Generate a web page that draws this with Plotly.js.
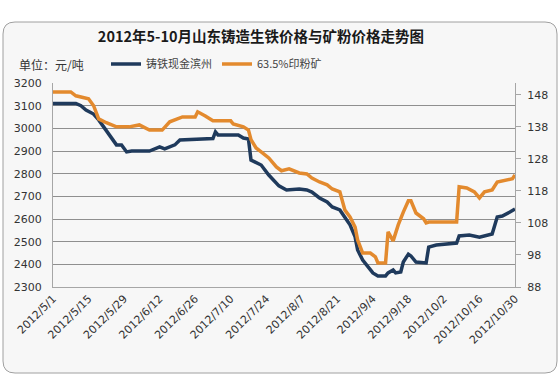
<!DOCTYPE html>
<html>
<head>
<meta charset="utf-8">
<script src="https://cdn.plot.ly/plotly-3.0.1.min.js"></script>
<style>html,body{margin:0;padding:0;background:#fff;}#chart{width:560px;height:388px;}</style>
</head>
<body>
<div id="chart"></div>
<script>
// 铸铁现金滨州 (元/吨, left axis)
const ironDates = ['2012-05-01','2012-05-10','2012-05-12','2012-05-14','2012-05-17','2012-05-19','2012-05-26','2012-05-28','2012-05-30','2012-06-01','2012-06-08','2012-06-12','2012-06-14','2012-06-18','2012-06-20','2012-06-26','2012-07-03','2012-07-04','2012-07-05','2012-07-13','2012-07-15','2012-07-17','2012-07-18','2012-07-22','2012-07-25','2012-07-29','2012-08-01','2012-08-06','2012-08-09','2012-08-11','2012-08-14','2012-08-17','2012-08-19','2012-08-22','2012-08-24','2012-08-26','2012-08-28','2012-08-29','2012-08-31','2012-09-02','2012-09-04','2012-09-06','2012-09-09','2012-09-10','2012-09-12','2012-09-13','2012-09-15','2012-09-16','2012-09-18','2012-09-19','2012-09-21','2012-09-25','2012-09-26','2012-09-29','2012-10-07','2012-10-08','2012-10-12','2012-10-16','2012-10-19','2012-10-21','2012-10-23','2012-10-25','2012-10-28','2012-10-30'];
const ironValues = [3110,3110,3100,3081,3063,3037,2927,2927,2896,2900,2900,2918,2909,2927,2949,2953,2955,2984,2971,2971,2957,2953,2860,2838,2794,2746,2728,2732,2728,2719,2693,2675,2653,2640,2604,2574,2521,2463,2419,2388,2362,2349,2349,2362,2375,2362,2366,2410,2445,2437,2410,2406,2476,2485,2494,2525,2529,2520,2529,2534,2609,2613,2631,2644];

// 63.5%印粉矿 (right axis)
const oreDates = ['2012-05-01','2012-05-08','2012-05-10','2012-05-15','2012-05-17','2012-05-19','2012-05-22','2012-05-26','2012-05-31','2012-06-04','2012-06-08','2012-06-13','2012-06-16','2012-06-21','2012-06-26','2012-06-27','2012-06-30','2012-07-03','2012-07-10','2012-07-11','2012-07-15','2012-07-17','2012-07-18','2012-07-20','2012-07-22','2012-07-25','2012-07-28','2012-07-30','2012-08-02','2012-08-06','2012-08-09','2012-08-11','2012-08-14','2012-08-17','2012-08-19','2012-08-22','2012-08-24','2012-08-26','2012-08-28','2012-08-29','2012-08-31','2012-09-03','2012-09-05','2012-09-06','2012-09-09','2012-09-10','2012-09-12','2012-09-14','2012-09-16','2012-09-18','2012-09-19','2012-09-21','2012-09-24','2012-09-25','2012-09-26','2012-10-07','2012-10-08','2012-10-11','2012-10-14','2012-10-16','2012-10-18','2012-10-21','2012-10-23','2012-10-27','2012-10-29','2012-10-30'];
const oreValues = [148.9,148.9,147.7,146.8,144.6,140.5,139.3,138,138,138.6,137,137,139.6,141.1,141.1,142.7,141.4,139.9,139.9,138.9,138,137,134,131.4,130.2,128.3,125.5,124.3,124.9,123.6,123.3,122,120.8,119.9,118.6,117.7,112,109.9,106.7,102.7,98.6,98.6,97.4,95.5,95.5,105.2,102.4,107.4,111.4,114.9,114.9,111.1,109.3,108,108.3,108.3,119.3,118.9,117.7,115.8,117.7,118.3,120.8,121.4,121.8,123];

const xTickVals = ['2012-05-01','2012-05-15','2012-05-29','2012-06-12','2012-06-26','2012-07-10','2012-07-24','2012-08-07','2012-08-21','2012-09-04','2012-09-18','2012-10-02','2012-10-16','2012-10-30'];
const xTickText = ['2012/5/1','2012/5/15','2012/5/29','2012/6/12','2012/6/26','2012/7/10','2012/7/24','2012/8/7','2012/8/21','2012/9/4','2012/9/18','2012/10/2','2012/10/16','2012/10/30'];
const leftTicks = [2300,2400,2500,2600,2700,2800,2900,3000,3100,3200];
const rightTicks = [88,98,108,118,128,138,148];

const seriesNames = ['铸铁现金滨州','63.5%印粉矿'];
const titleText = '2012年5-10月山东铸造生铁价格与矿粉价格走势图';
const unitText = '单位：元/吨';

const traces = [
  {x: ironDates, y: ironValues, name: seriesNames[0], type: 'scatter', mode: 'lines',
   line: {color: '#1F3A5C', width: 3.5}, yaxis: 'y'},
  {x: oreDates, y: oreValues, name: seriesNames[1], type: 'scatter', mode: 'lines',
   line: {color: '#E38A2E', width: 3.5}, yaxis: 'y2'}
];

// plot area in pixels: left 53, right 515, top 83, bottom 287
const PX = (px) => (px - 53) / 462;
const PY = (py) => (287 - py) / 204;
const x0 = PX(3), x1 = PX(557), y0 = PY(373), y1 = PY(22);
const rx = 12 / 462, ry = 12 / 204;
const framePath = `M ${x0 + rx} ${y1} L ${x1 - rx} ${y1} Q ${x1} ${y1} ${x1} ${y1 - ry} L ${x1} ${y0 + ry} Q ${x1} ${y0} ${x1 - rx} ${y0} L ${x0 + rx} ${y0} Q ${x0} ${y0} ${x0} ${y0 + ry} L ${x0} ${y1 - ry} Q ${x0} ${y1} ${x0 + rx} ${y1} Z`;

const axisFont = {family: 'Tahoma, "DejaVu Sans", "Noto Sans", sans-serif', size: 11, color: '#333'};

const layout = {
  width: 560, height: 388,
  margin: {l: 53, r: 45, t: 83, b: 101, pad: 0},
  paper_bgcolor: '#ffffff',
  plot_bgcolor: 'rgba(0,0,0,0)',
  title: {text: '<b>' + titleText + '</b>', x: 0.466, xanchor: 'center', y: 0.905, yanchor: 'middle',
          font: {family: '"Noto Sans CJK SC", sans-serif', size: 14.5, color: '#1a1a1a'}},
  showlegend: true,
  legend: {orientation: 'h', x: PX(106), xanchor: 'left', y: PY(64), yanchor: 'middle',
           font: {family: '"Noto Sans CJK SC", sans-serif', size: 11, color: '#444'},
           bgcolor: 'rgba(0,0,0,0)', itemwidth: 30, tracegroupgap: 0},
  xaxis: {type: 'date', range: ['2012-05-01', '2012-10-30'], tickvals: xTickVals, ticktext: xTickText,
          tickangle: -45, tickfont: axisFont, showgrid: false, showline: true, linecolor: '#a6a6a6',
          linewidth: 1, ticks: '', zeroline: false, fixedrange: true},
  yaxis: {range: [2300, 3200], tickvals: leftTicks, tickfont: axisFont, showgrid: true, gridcolor: '#8f8f8f',
          gridwidth: 1, showline: true, linecolor: '#a6a6a6', ticks: '', zeroline: false, mirror: false,
          ticklabelstandoff: 8},
  yaxis2: {range: [88, 151.7], tickvals: rightTicks, overlaying: 'y', side: 'right', tickfont: axisFont,
           showgrid: false, showline: true, linecolor: '#a6a6a6', ticks: 'outside', ticklen: 5,
           tickcolor: '#a6a6a6', zeroline: false, ticklabelstandoff: 4},
  shapes: [
    {type: 'path', xref: 'paper', yref: 'paper', path: framePath, layer: 'below',
     fillcolor: '#f7f7f7', line: {color: '#a0a0a0', width: 1}}
  ],
  annotations: [
    {text: unitText, xref: 'paper', yref: 'paper', x: PX(17), y: PY(64), xanchor: 'left', yanchor: 'middle',
     showarrow: false, font: {family: '"Noto Sans CJK SC", sans-serif', size: 12, color: '#333'}}
  ]
};

Plotly.newPlot('chart', traces, layout, {displayModeBar: false, staticPlot: true});
</script>
</body>
</html>
